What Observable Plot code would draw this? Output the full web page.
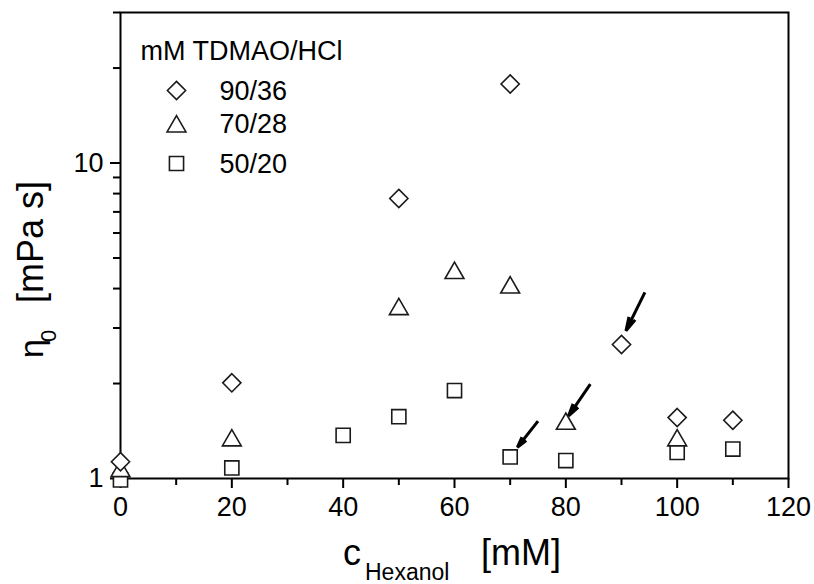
<!DOCTYPE html>
<html><head><meta charset="utf-8">
<script src="https://cdn.jsdelivr.net/npm/d3@7"></script>
<script src="https://cdn.jsdelivr.net/npm/@observablehq/plot@0.6"></script>
<style>body{margin:0;background:#fff} #chart{width:814px;height:584px;overflow:hidden}</style>
</head><body><div id="chart"></div>
<script>
// Series: mM TDMAO/HCl
const hexanol90 = [0, 20, 50, 70, 90, 100, 110];
const eta90     = [1.13, 2.01, 7.72, 17.8, 2.66, 1.56, 1.53];
const hexanol70 = [0, 20, 50, 60, 70, 80, 100];
const eta70     = [1.055, 1.32, 3.44, 4.48, 4.03, 1.49, 1.32];
const hexanol50 = [0, 20, 40, 50, 60, 70, 80, 100, 110];
const eta50     = [0.99, 1.08, 1.37, 1.57, 1.90, 1.17, 1.14, 1.21, 1.24];
const seriesLabels = ["90/36", "70/28", "50/20"];
const legendTitle = "mM TDMAO/HCl";
// Ticks
const xTicksMajor = [0, 20, 40, 60, 80, 100, 120];
const xTicksMinor = [10, 30, 50, 70, 90, 110];
const yTicksMajor = [1, 10];
const yTicksMinor = [2, 3, 4, 5, 6, 7, 8, 9, 20, 30];
// Arrows (data coordinates: tail -> head)
const arrowX1 = [94.2, 84.4, 75.0];
const arrowY1 = [3.89, 1.99, 1.52];
const arrowX2 = [90.8, 80.5, 71.3];
const arrowY2 = [2.94, 1.58, 1.256];

const toRows = (xs, ys) => xs.map((x, i) => ({x, y: ys[i]}));
const s90 = toRows(hexanol90, eta90);
const s70 = toRows(hexanol70, eta70);
const s50 = toRows(hexanol50, eta50);
const arrows = arrowX1.map((x, i) => ({x1: x, y1: arrowY1[i], x2: arrowX2[i], y2: arrowY2[i]}));

const symbolsBySeries = ["diamond2", "triangle2", "square2"];
const radiusBySeries = [8.2, 9, 9];
const strokeCol = "#1a1a1a";
const dotStyle = (i) => ({symbol: symbolsBySeries[i], r: radiusBySeries[i], stroke: strokeCol, strokeWidth: 1.6, fill: "white"});

const legendDy = [78, 114, 151];
const legendTextDy = [79, 112, 152];
const legendMarks = [];
seriesLabels.forEach((lab, i) => {
  legendMarks.push(Plot.dot([lab], {frameAnchor: "top-left", dx: 56, dy: legendDy[i], ...dotStyle(i)}));
  legendMarks.push(Plot.text([lab], {text: d => d, frameAnchor: "top-left", dx: 99, dy: legendTextDy[i], textAnchor: "start", lineAnchor: "middle", fontSize: 27, fill: "black"}));
});

const chart = Plot.plot({
  width: 814, height: 584,
  marginLeft: 120, marginRight: 26, marginTop: 12, marginBottom: 106,
  style: {fontFamily: "'Liberation Sans', Arial, Helvetica, sans-serif", fontSize: "27px", background: "white", color: "black", overflow: "visible"},
  x: {domain: [0, 120]},
  y: {type: "log", domain: [1, 30]},
  marks: [
    Plot.axisX(xTicksMajor, {tickSize: 10, tickPadding: 8, strokeWidth: 2, label: null, fontSize: 27, tickFormat: d => String(d)}),
    Plot.axisX(xTicksMinor, {tickSize: 7, strokeWidth: 2, label: null, tickFormat: () => ""}),
    Plot.axisY(yTicksMajor, {tickSize: 10, tickPadding: 7, strokeWidth: 2, label: null, fontSize: 27, tickFormat: d => String(d)}),
    Plot.axisY(yTicksMinor, {tickSize: 7, strokeWidth: 2, label: null, tickFormat: () => ""}),
    Plot.frame({stroke: "black", strokeWidth: 2}),
    Plot.dot(s50, {x: "x", y: "y", ...dotStyle(2)}),
    Plot.dot(s70, {x: "x", y: "y", ...dotStyle(1)}),
    Plot.dot(s90, {x: "x", y: "y", ...dotStyle(0)}),
    Plot.arrow(arrows, {x1: "x1", y1: "y1", x2: "x2", y2: "y2", stroke: "black", strokeWidth: 3, headLength: 15, headAngle: 28, strokeLinejoin: "miter", strokeLinecap: "butt"}),
    Plot.text([legendTitle], {text: d => d, frameAnchor: "top-left", dx: 20, dy: 47, textAnchor: "start", lineAnchor: "bottom", fontSize: 27, fill: "black"}),
    ...legendMarks
  ]
});
document.getElementById("chart").appendChild(chart);

// Axis titles with subscripts
const svg = d3.select(chart);
const ff = "'Liberation Sans', Arial, Helvetica, sans-serif";
const xt = svg.append("g").attr("font-family", ff).attr("fill", "black").attr("text-anchor", "start");
xt.append("text").attr("x", 343).attr("y", 565).attr("font-size", 36).attr("text-anchor", "start").text("c");
xt.append("text").attr("x", 365).attr("y", 580).attr("font-size", 23).attr("text-anchor", "start").text("Hexanol");
xt.append("text").attr("x", 481).attr("y", 565).attr("font-size", 36).attr("text-anchor", "start").text("[mM]");

const yt = svg.append("g").attr("font-family", ff).attr("fill", "black").attr("text-anchor", "start")
  .attr("transform", "translate(43,358) rotate(-90)");
yt.append("text").attr("x", 0).attr("y", 0).attr("font-size", 34).attr("text-anchor", "start").text("η");
yt.append("text").attr("x", 16).attr("y", 13).attr("font-size", 22).attr("text-anchor", "start").text("0");
yt.append("text").attr("x", 55).attr("y", 0).attr("font-size", 36).attr("text-anchor", "start").text("[mPa s]");
</script>
</body></html>
